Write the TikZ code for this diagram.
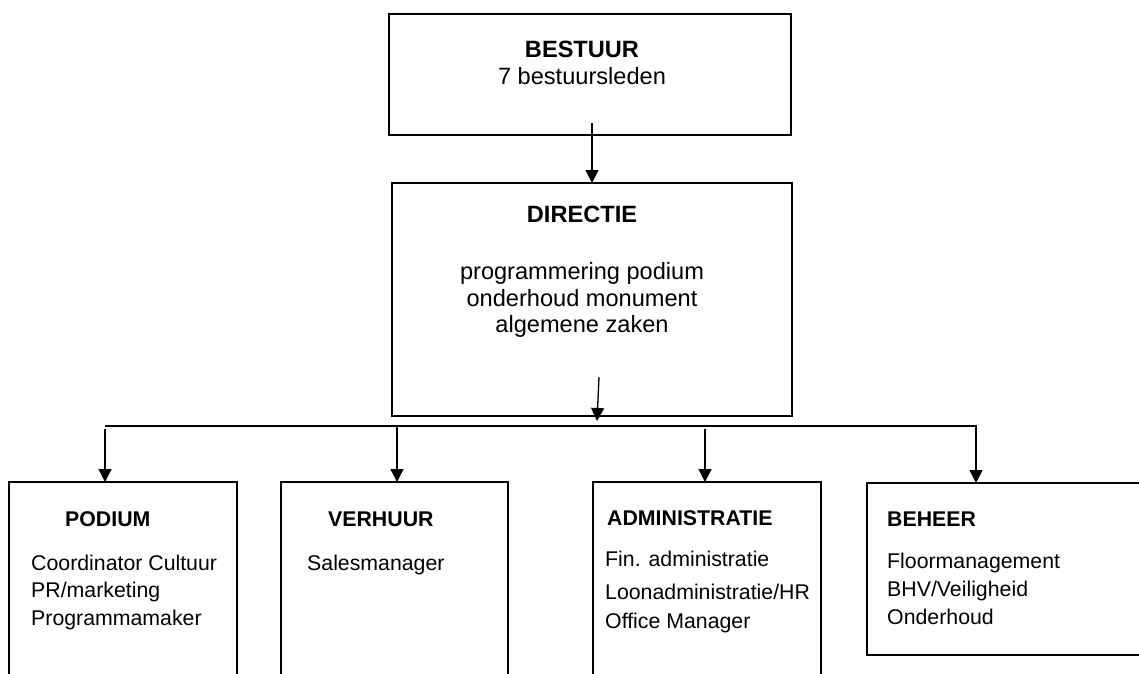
\documentclass[tikz,border=0pt]{standalone}
\usepackage{fontspec}
\setmainfont{Liberation Sans}
\usetikzlibrary{arrows.meta}
\begin{document}
\begin{tikzpicture}[x=1pt,y=-1pt,
  box/.style={draw,line width=1.7pt,inner sep=0pt,outer sep=0pt},
  conn/.style={line width=1.3pt,-{Triangle[length=13pt,width=13pt]}},
  big/.style={font=\fontsize{23.6}{27.5}\selectfont,inner sep=0pt,anchor=base},
  small/.style={font=\fontsize{21.3}{27}\selectfont,inner sep=0pt,anchor=base west}]
\useasboundingbox (0,0) rectangle (1139,673);
\fill[white] (0,0) rectangle (1139,673);
\begin{scope}
\clip (0,0) rectangle (1139,673);
% boxes
\node[box,minimum width=402pt,minimum height=121pt] (bestuur) at (590,74.5) {};
\node[box,minimum width=400pt,minimum height=233pt] (directie) at (592,299.5) {};
\node[box,minimum width=228pt,minimum height=218pt] (podium) at (123,591) {};
\node[box,minimum width=227pt,minimum height=218pt] (verhuur) at (394.5,591) {};
\node[box,minimum width=228pt,minimum height=218pt] (admin) at (707,591) {};
\node[box,minimum width=293pt,minimum height=172pt] (beheer) at (1013.5,569) {};
% texts
\node[big] (t1) at (582,57) {\bfseries BESTUUR};
\node[big] (t2) at (582,84) {7 bestuursleden};
\node[big] (t3) at (582,222) {\bfseries DIRECTIE};
\node[big] (t4) at (582,279) {programmering podium};
\node[big] (t5) at (582,306) {onderhoud monument};
\node[big] (t6) at (582,332) {algemene zaken};
\node[small] (p0) at (65,526) {\bfseries PODIUM};
\node[small] (p1) at (31,570) {Coordinator Cultuur};
\node[small] (p2) at (31,597) {PR/marketing};
\node[small] (p3) at (31,625) {Programmamaker};
\node[small] (v0) at (328,526) {\bfseries VERHUUR};
\node[small] (v1) at (307,570) {Salesmanager};
\node[small] (d0) at (607,525) {\bfseries ADMINISTRATIE};
\node[small] (d1) at (605,566) {Fin. administratie};
\node[small] (d2) at (605,599) {Loonadministratie/HR};
\node[small] (d3) at (605,628) {Office Manager};
\node[small] (b0) at (887,526) {\bfseries BEHEER};
\node[small] (b1) at (887,568) {Floormanagement};
\node[small] (b2) at (887,596) {BHV/Veiligheid};
\node[small] (b3) at (887,624) {Onderhoud};
% connectors
\coordinate (a1) at (592,123);
\draw[conn] (a1) -- (a1 |- directie.north);
\coordinate (a2) at (599,377);
\coordinate (a2e) at (597,421);
\draw[conn] (a2) -- (a2e);
\coordinate (busL) at (105,426);
\coordinate (busR) at (976,426);
\draw[conn,line join=miter] (busL) -- (busR) -- (busR |- beheer.north);
\coordinate (cp) at (105,429);
\draw[conn] (cp) -- (cp |- podium.north);
\coordinate (cv) at (397,426);
\draw[conn] (cv) -- (cv |- verhuur.north);
\coordinate (ca) at (705,429);
\draw[conn] (ca) -- (ca |- admin.north);
\end{scope}
\end{tikzpicture}
\end{document}
